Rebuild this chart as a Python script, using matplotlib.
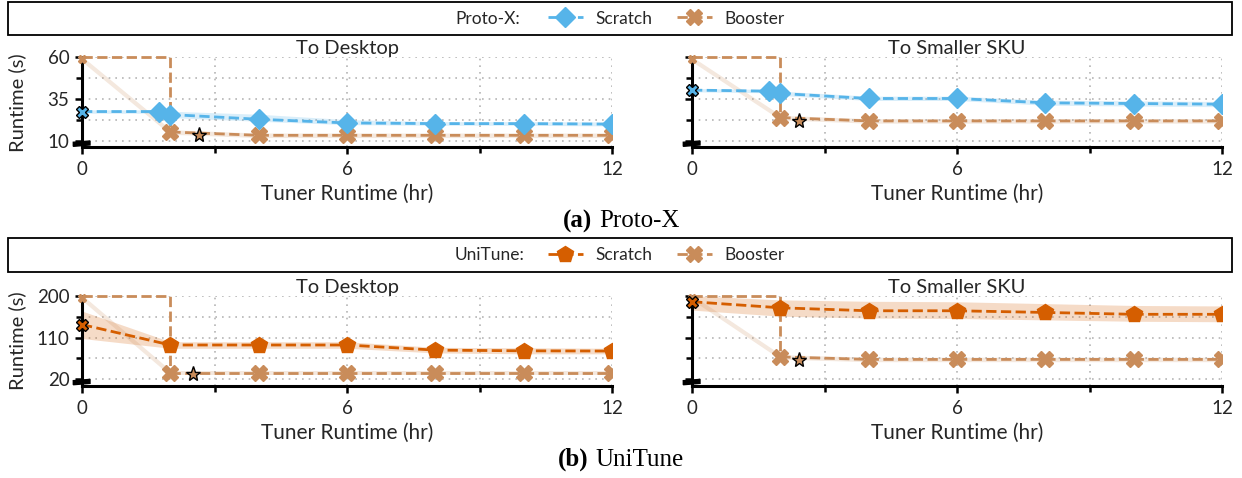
import matplotlib
matplotlib.use('Agg')
import matplotlib.pyplot as plt
from matplotlib.patches import Rectangle, Polygon
from matplotlib.lines import Line2D

# ---------------- data ----------------
hours_protox_scratch = [0, 1.75, 2, 4, 6, 8, 10, 12]
hours_unitune_scratch = [0, 2, 4, 6, 8, 10, 12]
hours_booster = [2, 4, 6, 8, 10, 12]

# Proto-X, To Desktop
px_desk_scratch = [27.6, 27.6, 25.8, 23.0, 20.8, 20.4, 20.4, 20.1]
px_desk_scratch_lo = [26.6, 26.6, 24.0, 21.8, 19.8, 19.4, 19.4, 19.0]
px_desk_scratch_hi = [28.6, 28.6, 27.8, 26.0, 22.8, 21.6, 21.6, 21.4]
px_desk_booster = [15.4, 13.4, 13.4, 13.4, 13.4, 13.4]
px_desk_booster_start = 59.0
px_desk_best = (2.64, 13.4)

# Proto-X, To Smaller SKU
px_sku_scratch = [40.4, 39.8, 38.4, 35.4, 35.4, 32.8, 32.4, 32.0]
px_sku_scratch_lo = [39.4, 38.8, 37.2, 34.2, 34.2, 31.4, 30.9, 30.5]
px_sku_scratch_hi = [41.4, 40.8, 39.8, 36.8, 36.8, 34.4, 34.0, 33.6]
px_sku_booster = [24.0, 22.0, 22.0, 22.0, 22.0, 22.0]
px_sku_booster_start = 58.8
px_sku_best = (2.42, 22.0)

# UniTune, To Desktop
ut_desk_scratch = [138, 94, 94, 94, 83, 81.5, 81]
ut_desk_scratch_lo = [108, 87, 87, 87, 77, 75, 75]
ut_desk_scratch_hi = [167, 101, 101, 101, 89, 88, 87]
ut_desk_booster = [34, 34, 34, 34, 34, 34]
ut_desk_booster_start = 196
ut_desk_best = (2.52, 32.5)

# UniTune, To Smaller SKU
ut_sku_scratch = [187, 174, 167.6, 167.6, 164, 160, 160]
ut_sku_scratch_lo = [169, 156, 152, 151, 148, 145, 144]
ut_sku_scratch_hi = [200, 191, 188, 187, 183, 179, 178]
ut_sku_booster = [68.4, 63, 63, 63, 63, 63]
ut_sku_booster_start = 196
ut_sku_best = (2.42, 62.8)

protox_yticks = [10, 35, 60]
unitune_yticks = [20, 110, 200]
xticks_major = [0, 6, 12]
xticks_minor = [3, 9]
panel_titles = ['To Desktop', 'To Smaller SKU']

SCR_PX = '#56B4E9'
SCR_UT = '#D55E00'
BOOST = '#C98C5A'

SANS = ['Lato', 'DejaVu Sans']
SERIF = ['Liberation Serif', 'DejaVu Serif']
plt.rcParams['font.family'] = SANS
TXT = '#262626'

W, H = 1242, 478
fig = plt.figure(figsize=(W / 100, H / 100), dpi=100)


def px_axes(l, t, r, b):
    return fig.add_axes([l / W, 1 - b / H, (r - l) / W, (b - t) / H])


def draw_panel(ax, sx, sy, slo, shi, scol, smark, sms, bstart, by, best,
               yticks, show_ylabels):
    step = yticks[1] - yticks[0]
    ytop = yticks[-1]
    ybot = yticks[0] - 0.15 * step
    ax.set_xlim(0, 12)
    ax.set_ylim(ybot, ytop)
    ax.set_xticks(xticks_major)
    ax.set_xticks(xticks_minor, minor=True)
    ax.set_yticks(yticks)
    ax.set_yticks([yticks[0] + step / 2, yticks[1] + step / 2], minor=True)
    if not show_ylabels:
        ax.set_yticklabels([])
    ax.grid(which='both', ls=(0, (1, 3)), color='#b5b5b5', lw=1.2, zorder=0)
    ax.set_axisbelow(True)
    for s in ['top', 'right']:
        ax.spines[s].set_visible(False)
    for s in ['left', 'bottom']:
        ax.spines[s].set_linewidth(2.2)
    ax.tick_params(which='both', direction='out', width=1.8, color='k',
                   labelsize=13.5, labelcolor=TXT)
    ax.tick_params(which='major', length=5)
    ax.tick_params(which='minor', length=4)
    ax.tick_params(axis='x', pad=5)
    ax.tick_params(axis='y', pad=4)

    # bands
    ax.fill_between(sx, slo, shi, color=scol, alpha=0.22, lw=0, zorder=2)
    blo = [v - 0.025 * (ytop - ybot) for v in by]
    bhi = [v + 0.025 * (ytop - ybot) for v in by]
    ax.fill_between(hours_booster, blo, bhi, color=BOOST, alpha=0.2, lw=0, zorder=2)
    ax.plot([0, hours_booster[0]], [bstart, by[0]], color=BOOST, alpha=0.2,
            lw=3, solid_capstyle='butt', zorder=2)
    # booster step (waiting period)
    ax.plot([0, hours_booster[0], hours_booster[0]], [ytop, ytop, by[0]],
            color=BOOST, ls='--', lw=2, clip_on=False, zorder=3)
    ax.plot(hours_booster, by, color=BOOST, ls='--', lw=2, marker='X', ms=11,
            mec=BOOST, zorder=4)
    ax.plot([0], [bstart], marker='X', ms=6, color=BOOST, ls='none',
            clip_on=False, zorder=4)
    # scratch
    ax.plot(sx, sy, color=scol, ls='--', lw=2, zorder=5)
    ax.plot(sx[1:], sy[1:], color=scol, ls='none', marker=smark, ms=sms,
            mec=scol, zorder=5)
    ax.plot([sx[0]], [sy[0]], marker='X', ms=8.5, mfc=scol, mec='k', mew=1,
            ls='none', clip_on=False, zorder=7)
    ax.plot([best[0]], [best[1]], marker='*', ms=11, mfc=BOOST, mec='k',
            mew=1, ls='none', zorder=7)
    # broken-axis mark
    ax.add_patch(Polygon([(-0.0164, 0.011), (-0.0164, 0.056), (0.0151, 0.07),
                          (0.0151, 0.026)], closed=True, transform=ax.transAxes,
                         facecolor='k', edgecolor='k', clip_on=False, zorder=8))


def caption(label, name, y_center):
    t1 = fig.text(0, 0, label, fontsize=18, fontweight='bold',
                  family=SERIF, va='center', color='k')
    t2 = fig.text(0, 0, name, fontsize=18, family=SERIF, va='center', color='k')
    fig.canvas.draw()
    r = fig.canvas.get_renderer()
    w1 = t1.get_window_extent(r).width
    w2 = t2.get_window_extent(r).width
    gap = 7
    x0 = 621 - (w1 + gap + w2) / 2
    t1.set_position((x0 / W, 1 - y_center / H))
    t2.set_position(((x0 + w1 + gap) / W, 1 - y_center / H))


def legend_block(top, bottom, name, scol, smark, sms):
    fig.patches.append(Rectangle((8 / W, 1 - bottom / H), 1224 / W, (bottom - top) / H,
                                 transform=fig.transFigure, fill=False,
                                 lw=1.3, ec='k'))
    yc = (top + bottom) / 2
    fig.text(455 / W, 1 - yc / H, name, fontsize=12.5, color=TXT,
             ha='left', va='center')
    h1 = Line2D([], [], color=scol, ls='--', lw=2, marker=smark, ms=sms, mec=scol)
    h2 = Line2D([], [], color=BOOST, ls='--', lw=2, marker='X', ms=11, mec=BOOST)
    fig.legend([h1, h2], ['Scratch', 'Booster'], loc='center left',
               bbox_to_anchor=(548 / W, 1 - yc / H), frameon=False, ncol=2,
               handlelength=2.0, handletextpad=0.75, columnspacing=1.4,
               fontsize=12.5, borderpad=0, borderaxespad=0, labelcolor=TXT)


rows = [
    dict(top=57.3, scol=SCR_PX, smark='D', sms=10.5, sx=hours_protox_scratch,
         yticks=protox_yticks, name='Proto-X:', leg=(2, 35), cap=('(a)', 'Proto-X'),
         data=[(px_desk_scratch, px_desk_scratch_lo, px_desk_scratch_hi,
                px_desk_booster_start, px_desk_booster, px_desk_best),
               (px_sku_scratch, px_sku_scratch_lo, px_sku_scratch_hi,
                px_sku_booster_start, px_sku_booster, px_sku_best)]),
    dict(top=295.7, scol=SCR_UT, smark='p', sms=12, sx=hours_unitune_scratch,
         yticks=unitune_yticks, name='UniTune:', leg=(238, 272), cap=('(b)', 'UniTune'),
         data=[(ut_desk_scratch, ut_desk_scratch_lo, ut_desk_scratch_hi,
                ut_desk_booster_start, ut_desk_booster, ut_desk_best),
               (ut_sku_scratch, ut_sku_scratch_lo, ut_sku_scratch_hi,
                ut_sku_booster_start, ut_sku_booster, ut_sku_best)]),
]

for row in rows:
    top = row['top']
    bot = top + 90
    for i, (l, r) in enumerate([(82, 612), (692, 1222)]):
        ax = px_axes(l, top, r, bot)
        sy, slo, shi, bstart, by, best = row['data'][i]
        draw_panel(ax, row['sx'], sy, slo, shi, row['scol'], row['smark'],
                   row['sms'], bstart, by, best, row['yticks'], i == 0)
        fig.text((l + r) / 2 / W, 1 - (top - 3) / H, panel_titles[i],
                 fontsize=14.5, color=TXT, ha='center', va='baseline')
        fig.text((l + r) / 2 / W, 1 - (bot + 53) / H, 'Tuner Runtime (hr)',
                 fontsize=15, color=TXT, ha='center', va='baseline')
    fig.text(17 / W, 1 - (top + 45) / H, 'Runtime (s)', fontsize=14.5, color=TXT,
             rotation=90, ha='center', va='center')
    legend_block(row['leg'][0], row['leg'][1], row['name'], row['scol'],
                 row['smark'], row['sms'])
    caption(row['cap'][0], row['cap'][1], bot + 74)

fig.savefig('out.png', dpi=100)
